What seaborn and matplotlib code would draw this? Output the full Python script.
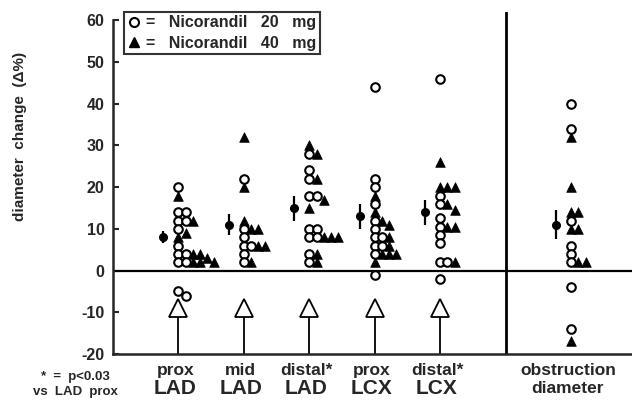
import numpy as np
import pandas as pd
import matplotlib
matplotlib.use("Agg")
import matplotlib.pyplot as plt
from matplotlib.lines import Line2D
import seaborn as sns

# category labels (two lines each)
top_labels = ["prox", "mid", "distal*", "prox", "distal*", "obstruction"]
bottom_labels = ["LAD", "LAD", "LAD", "LCX", "LCX", "diameter"]

# diameter change (%) per patient
nico20 = [
    [20, 14, 14, 12, 12, 10, 6, 4, 4, 2, 2, -5, -6],
    [22, 10, 8, 6, 6, 4, 2],
    [28, 24, 22, 18, 18, 10, 10, 8, 8, 4, 2],
    [44, 22, 20, 16, 12, 10, 8, 8, 6, 6, 4, -1],
    [46, 18, 16, 12.5, 10.5, 8.5, 6.5, 2, 2, -2],
    [40, 34, 12, 6, 4, 2, -4, -14],
]
nico40 = [
    [18, 12, 9, 8, 4, 4, 3, 2, 2, 2],
    [32, 20, 12, 10, 10, 6, 6, 2],
    [30, 28, 22, 17, 15, 8, 8, 8, 4, 2],
    [18, 14, 12, 11, 8, 6, 4, 4, 4, 2],
    [26, 20, 20, 20, 16, 14.5, 10.5, 10.5, 2],
    [32, 20, 14, 14, 10, 10, 2, 2, -17],
]
mean_change = [8, 11, 15, 13, 14, 11]
sd_change = [1.5, 2.5, 3, 3, 3, 3.5]

# layout
positions = [0, 1, 2, 3, 4, 6]
step = 0.11      # sideways shift for overlapping points
gap = 1.8        # values closer than this overlap

rows = []
for pos, c20, c40 in zip(positions, nico20, nico40):
    pts = [(v, "20") for v in c20] + [(v, "40") for v in c40]
    pts.sort(key=lambda p: -p[0])
    slots = []
    for v, dose in pts:
        k = 0
        while k < len(slots) and any(abs(v - u) < gap for u in slots[k]):
            k += 1
        if k == len(slots):
            slots.append([])
        slots[k].append(v)
        rows.append({"x": pos + k * step, "y": v, "dose": dose})
df = pd.DataFrame(rows)

sns.set_style("ticks")
plt.rcParams["font.family"] = ["Liberation Sans", "DejaVu Sans"]
plt.rcParams["font.weight"] = "bold"
plt.rcParams["axes.unicode_minus"] = False

fig = plt.figure(figsize=(6.32, 4), dpi=100)
ax = fig.add_axes([113 / 632, 46 / 400, 519 / 632, 342 / 400])

sns.scatterplot(data=df[df.dose == "20"], x="x", y="y", marker="o", s=38,
                facecolor="white", edgecolor="black", linewidth=1.5,
                ax=ax, legend=False, zorder=4)
sns.scatterplot(data=df[df.dose == "40"], x="x", y="y", marker="^", s=48,
                color="black", edgecolor="black", linewidth=0.5,
                ax=ax, legend=False, zorder=3)

ax.errorbar(np.array(positions) - 0.23, mean_change, yerr=sd_change,
            fmt="o", color="black", ms=5.5, elinewidth=1.6, capsize=0, zorder=3)

# open arrows below zero line
for pos in positions[:5]:
    ax.plot([pos, pos], [-20, -11], color="black", lw=1.3, zorder=2)
    ax.plot(pos, -9, marker="^", ms=12.5, mfc="white", mec="black", mew=1.3, zorder=3)

ax.axhline(0, color="black", lw=1.6, zorder=1)
ax.axvline(5, color="black", lw=2, zorder=1)

ax.set_xlim(-1, 6.93)
ax.set_ylim(-20, 62)
ax.set_yticks(range(-20, 61, 10))
ax.tick_params(axis="y", direction="in", length=4, width=1.5, labelsize=11.5, pad=6)
for t in ax.get_yticklabels():
    t.set_fontweight("bold")
ax.set_xticks([])
ax.set_xlabel("")
ax.set_ylabel("")
sns.despine(ax=ax, top=True, right=True)
ax.spines["left"].set_bounds(-20, 60)
ax.spines["left"].set_linewidth(1.8)
ax.spines["bottom"].set_linewidth(1.8)

tr = ax.get_xaxis_transform()
for pos, t, b in zip(positions, top_labels, bottom_labels):
    big = b != "diameter"
    ax.text(pos - 0.05, -0.047, t, transform=tr, ha="center", va="center",
            fontsize=12.5, fontweight="bold")
    ax.text(pos - 0.05, -0.1, b, transform=tr, ha="center", va="center",
            fontsize=15 if big else 12.5, fontweight="bold")

fig.text(75 / 632, 1 - 377 / 400, "*  =  p<0.03", ha="center", va="center",
         fontsize=9.5, fontweight="bold")
fig.text(75 / 632, 1 - 392 / 400, "vs  LAD  prox", ha="center", va="center",
         fontsize=9.5, fontweight="bold")

fig.text(20 / 632, 1 - 136 / 400, "diameter  change  (\u0394%)", rotation=90,
         ha="center", va="center", fontsize=11, fontweight="bold")

handles = [
    Line2D([], [], marker="o", ls="", mfc="white", mec="black", mew=1.5, ms=6.5),
    Line2D([], [], marker="^", ls="", color="black", ms=7.5),
]
leg = ax.legend(handles, ["=   Nicorandil   20   mg", "=   Nicorandil   40   mg"],
                loc="upper left", bbox_to_anchor=(11 / 519, 1.0), borderaxespad=0,
                frameon=True, fancybox=False, handlelength=0.8, handletextpad=0.4,
                borderpad=0.2, labelspacing=0.35, prop={"size": 11.5, "weight": "bold"})
leg.get_frame().set_edgecolor("black")
leg.get_frame().set_linewidth(1.5)

fig.savefig("out.png", dpi=100)
